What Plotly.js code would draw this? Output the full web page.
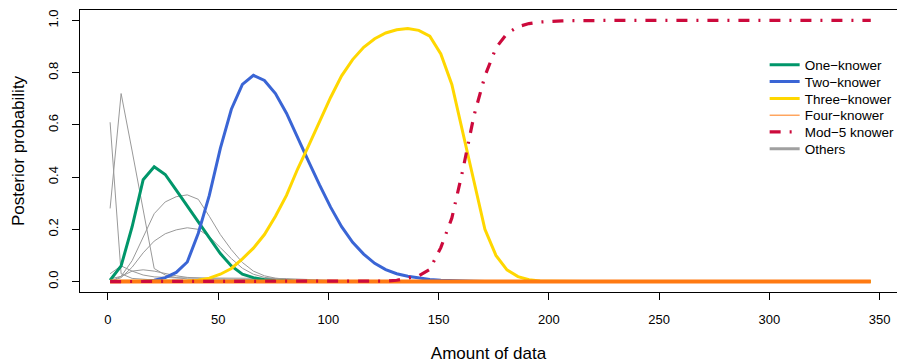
<!DOCTYPE html>
<html>
<head>
<meta charset="utf-8">
<script src="https://cdn.plot.ly/plotly-3.0.1.min.js"></script>
<style>
  html, body { margin: 0; padding: 0; background: #ffffff; }
  #chart { width: 900px; height: 363px; }
</style>
</head>
<body>
<div id="chart"></div>
<script>
// Amount of data (x), sampled every 5 units
var amount = [1,6,11,16,21,26,31,36,41,46,51,56,61,66,71,76,81,86,91,96,
  101,106,111,116,121,126,131,136,141,146,151,156,161,166,171,176,181,186,191,196,
  201,206,211,216,221,226,231,236,241,246,251,256,261,266,271,276,281,286,291,296,
  301,306,311,316,321,326,331,336,341,346];

var oneKnower = [0.005,0.06,0.21,0.39,0.44,0.41,0.35,0.29,0.23,0.17,
  0.107,0.06,0.028,0.015,0.007,0.003,0.001,0,0,0,
  0,0,0,0,0,0,0,0,0,0,0,0,0,0,0,0,0,0,0,0,
  0,0,0,0,0,0,0,0,0,0,0,0,0,0,0,0,0,0,0,0,
  0,0,0,0,0,0,0,0,0,0];

var twoKnower = [0,0,0,0.001,0.005,0.015,0.035,0.075,0.185,0.33,
  0.51,0.66,0.755,0.79,0.77,0.72,0.645,0.55,0.46,0.37,
  0.285,0.21,0.15,0.105,0.07,0.046,0.03,0.02,0.013,0.008,
  0.005,0.003,0.002,0.001,0,0,0,0,0,0,
  0,0,0,0,0,0,0,0,0,0,0,0,0,0,0,0,0,0,0,0,
  0,0,0,0,0,0,0,0,0,0];

var threeKnower = [0,0,0,0,0,0.001,0.001,0.002,0.005,0.013,
  0.028,0.05,0.087,0.128,0.18,0.25,0.33,0.43,0.52,0.61,
  0.705,0.788,0.85,0.897,0.93,0.952,0.964,0.969,0.962,0.94,
  0.872,0.755,0.575,0.385,0.2,0.1,0.045,0.019,0.007,0.002,
  0.001,0,0,0,0,0,0,0,0,0,0,0,0,0,0,0,0,0,0,0,
  0,0,0,0,0,0,0,0,0,0];

var fourKnower = [0,0,0,0,0,0,0,0,0,0,0,0,0,0,0,0,0,0,0,0,
  0,0,0,0,0,0,0,0,0,0,0,0,0,0,0,0,0,0,0,0,
  0,0,0,0,0,0,0,0,0,0,0,0,0,0,0,0,0,0,0,0,
  0,0,0,0,0,0,0,0,0,0];

var mod5Knower = [0,0,0,0,0,0,0,0,0,0,0,0,0,0,0,0,0,0,0,0,
  0,0,0,0,0,0.002,0.005,0.012,0.022,0.047,
  0.13,0.243,0.428,0.634,0.787,0.895,0.95,0.976,0.988,0.994,
  0.997,0.998,0.999,1,1,1,1,1,1,1,1,1,1,1,1,1,1,1,1,1,
  1,1,1,1,1,1,1,1,1,1];

// "Others" hypotheses (thin grey lines)
var otherA = [0.61,0.03,0.012,0.008,0.006,0.005,0.004,0.003,0.002,0.002,
  0.001,0.001,0,0,0,0,0,0,0,0,0,0,0,0,0,0,0,0,0,0,
  0,0,0,0,0,0,0,0,0,0,0,0,0,0,0,0,0,0,0,0,0,0,0,0,0,0,0,0,0,0,
  0,0,0,0,0,0,0,0,0,0];
var otherB = [0.28,0.72,0.5,0.28,0.05,0.025,0.015,0.01,0.008,0.006,
  0.005,0.004,0.003,0.002,0.001,0,0,0,0,0,0,0,0,0,0,0,0,0,0,0,
  0,0,0,0,0,0,0,0,0,0,0,0,0,0,0,0,0,0,0,0,0,0,0,0,0,0,0,0,0,0,
  0,0,0,0,0,0,0,0,0,0];
var otherC = [0,0.02,0.08,0.17,0.26,0.305,0.325,0.332,0.315,0.25,
  0.18,0.122,0.073,0.04,0.022,0.013,0.008,0.005,0.003,0.002,
  0.001,0,0,0,0,0,0,0,0,0,0,0,0,0,0,0,0,0,0,0,
  0,0,0,0,0,0,0,0,0,0,0,0,0,0,0,0,0,0,0,0,
  0,0,0,0,0,0,0,0,0,0];
var otherD = [0,0.015,0.055,0.11,0.155,0.183,0.198,0.206,0.2,0.172,
  0.13,0.088,0.051,0.028,0.016,0.01,0.006,0.004,0.002,0.001,
  0,0,0,0,0,0,0,0,0,0,0,0,0,0,0,0,0,0,0,0,
  0,0,0,0,0,0,0,0,0,0,0,0,0,0,0,0,0,0,0,0,
  0,0,0,0,0,0,0,0,0,0];
var otherE = [0.03,0.06,0.04,0.025,0.018,0.015,0.014,0.014,0.014,0.014,
  0.014,0.014,0.014,0.013,0.013,0.012,0.011,0.009,0.007,0.005,
  0.004,0.003,0.002,0.001,0,0,0,0,0,0,0,0,0,0,0,0,0,0,0,0,
  0,0,0,0,0,0,0,0,0,0,0,0,0,0,0,0,0,0,0,0,
  0,0,0,0,0,0,0,0,0,0];
var otherF = [0.01,0.02,0.04,0.045,0.04,0.03,0.022,0.016,0.013,0.011,
  0.01,0.009,0.008,0.007,0.006,0.005,0.004,0.003,0.002,0.001,
  0,0,0,0,0,0,0,0,0,0,0,0,0,0,0,0,0,0,0,0,
  0,0,0,0,0,0,0,0,0,0,0,0,0,0,0,0,0,0,0,0,
  0,0,0,0,0,0,0,0,0,0];
var others = [otherA, otherB, otherC, otherD, otherE, otherF];

var legendNames = ['One\u2212knower','Two\u2212knower','Three\u2212knower','Four\u2212knower','Mod\u22125 knower','Others'];
var xTicks = [0,50,100,150,200,250,300,350];
var yTicks = [0,0.2,0.4,0.6,0.8,1.0];

var FONT = 'Liberation Sans, Arial, Helvetica, sans-serif';
var C_ONE = '#00966A', C_TWO = '#3A65D5', C_THREE = '#FFD700',
    C_FOUR = '#FF7A12', C_MOD5 = '#CC0A3C', C_OTH = '#999999';

var traces = [];
others.forEach(function (ys) {
  traces.push({x: amount, y: ys, mode: 'lines', showlegend: false,
    line: {color: C_OTH, width: 1}});
});
traces.push({x: amount, y: oneKnower, mode: 'lines', name: legendNames[0],
  legend: 'legend', line: {color: C_ONE, width: 3}});
traces.push({x: amount, y: twoKnower, mode: 'lines', name: legendNames[1],
  legend: 'legend2', line: {color: C_TWO, width: 3}});
traces.push({x: amount, y: threeKnower, mode: 'lines', name: legendNames[2],
  legend: 'legend3', line: {color: C_THREE, width: 3}});
traces.push({x: amount, y: fourKnower, mode: 'lines', showlegend: false,
  line: {color: C_FOUR, width: 4}});
traces.push({x: amount, y: mod5Knower, mode: 'lines', name: legendNames[4],
  legend: 'legend5', line: {color: C_MOD5, width: 3.2, dash: '11px,9px,2px,9px'}});
// legend-only entries
traces.push({x: [null], y: [null], mode: 'lines', name: legendNames[3],
  legend: 'legend4', line: {color: C_FOUR, width: 1}});
traces.push({x: [null], y: [null], mode: 'lines', name: legendNames[5],
  legend: 'legend6', line: {color: '#A0A0A0', width: 3}});

function leg(py) {
  return {x: 0.838, xanchor: 'left', y: (292 - py) / 282, yanchor: 'middle',
    bgcolor: 'rgba(0,0,0,0)', borderwidth: 0,
    font: {family: FONT, size: 13.5, color: '#000'}};
}
var entryY = [65, 81.8, 98.6, 115.4, 132.2, 149];

var layout = {
  width: 900, height: 363,
  margin: {l: 80, r: 0, t: 10, b: 71},
  paper_bgcolor: '#ffffff', plot_bgcolor: '#ffffff',
  showlegend: true,
  font: {family: FONT, color: '#000'},
  xaxis: {
    range: [-12.65, 357.9], tickvals: xTicks, ticktext: xTicks.map(String),
    showgrid: false, zeroline: false, showline: true, mirror: true,
    linecolor: '#000', linewidth: 1, ticks: 'outside', ticklen: 7,
    tickcolor: '#000', tickwidth: 1, tickfont: {family: FONT, size: 13},
    ticklabelstandoff: 8,
    title: {text: 'Amount of data', font: {family: FONT, size: 17}, standoff: 22}
  },
  yaxis: {
    range: [-0.04, 1.04], tickvals: yTicks, tickformat: '.1f',
    showgrid: false, zeroline: false, showline: true, mirror: false,
    linecolor: '#000', linewidth: 1, ticks: 'outside', ticklen: 7,
    tickcolor: '#000', tickwidth: 1, tickangle: -90,
    tickfont: {family: FONT, size: 13}, ticklabelstandoff: 9,
    title: {text: 'Posterior probability', font: {family: FONT, size: 17}, standoff: 16}
  },
  legend: leg(entryY[0]),
  legend2: leg(entryY[1]),
  legend3: leg(entryY[2]),
  legend4: leg(entryY[3]),
  legend5: leg(entryY[4]),
  legend6: leg(entryY[5])
};

Plotly.newPlot('chart', traces, layout, {displayModeBar: false, staticPlot: true});
</script>
</body>
</html>
